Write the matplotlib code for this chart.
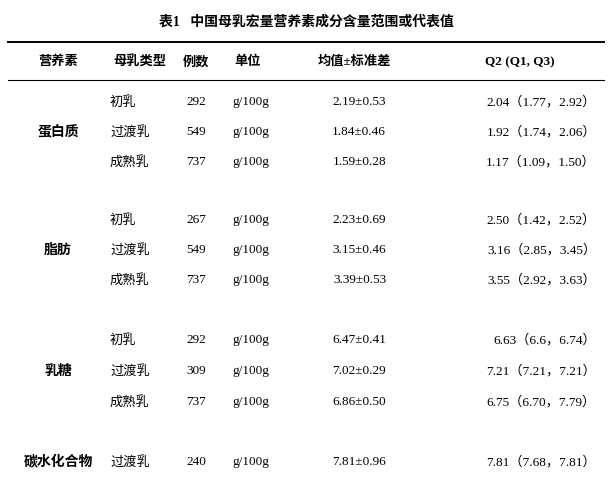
import matplotlib.pyplot as plt

plt.rcParams['font.family'] = ['Liberation Serif', 'Noto Sans CJK SC']

title = '表1   中国母乳宏量营养素成分含量范围或代表值'
headers = ['营养素', '母乳类型', '例数', '单位', '均值±标准差', 'Q2 (Q1, Q3)']
nutrients = ['蛋白质', '脂肪', '乳糖', '碳水化合物']
milk_types = [['初乳', '过渡乳', '成熟乳'], ['初乳', '过渡乳', '成熟乳'],
              ['初乳', '过渡乳', '成熟乳'], ['过渡乳']]
counts = [[292, 549, 737], [267, 549, 737], [292, 309, 737], [240]]
units = 'g/100g'
mean_sd = [['2.19±0.53', '1.84±0.46', '1.59±0.28'],
           ['2.23±0.69', '3.15±0.46', '3.39±0.53'],
           ['6.47±0.41', '7.02±0.29', '6.86±0.50'],
           ['7.81±0.96']]
quartiles = [['2.04（1.77，2.92）', '1.92（1.74，2.06）', '1.17（1.09，1.50）'],
             ['2.50（1.42，2.52）', '3.16（2.85，3.45）', '3.55（2.92，3.63）'],
             ['6.63（6.6，6.74）', '7.21（7.21，7.21）', '6.75（6.70，7.79）'],
             ['7.81（7.68，7.81）']]
row_y = [[102, 132, 162], [220, 250, 280], [340, 371, 402], [462]]

fig = plt.figure(figsize=(6.12, 4.78), dpi=100)
ax = fig.add_axes([0, 0, 1, 1])
ax.set_xlim(0, 612)
ax.set_ylim(478, 0)
ax.axis('off')

ax.text(306, 22, title, ha='center', va='center', fontsize=10, fontweight='bold')
ax.plot([8, 604], [42, 42], color='black', lw=1.4)
ax.plot([8, 604], [80, 80], color='black', lw=0.8)

hx = [58, 140, 196, 248, 354, 520]
for x, h in zip(hx, headers):
    ax.text(x, 62, h, ha='center', va='center', fontsize=9.5, fontweight='bold')

for g, name in enumerate(nutrients):
    ys = row_y[g]
    ax.text(58, sum(ys) / len(ys), name, ha='center', va='center',
            fontsize=10, fontweight='bold')
    for i, y in enumerate(ys):
        ax.text(110, y, milk_types[g][i], ha='left', va='center', fontsize=9.5)
        ax.text(196, y, str(counts[g][i]), ha='center', va='center', fontsize=9.5)
        ax.text(232, y, units, ha='left', va='center', fontsize=9.5)
        ax.text(386, y, mean_sd[g][i], ha='right', va='center', fontsize=9.5)
        ax.text(596, y, quartiles[g][i], ha='right', va='center', fontsize=9.5)

fig.savefig('out.png', dpi=100, facecolor='white')
